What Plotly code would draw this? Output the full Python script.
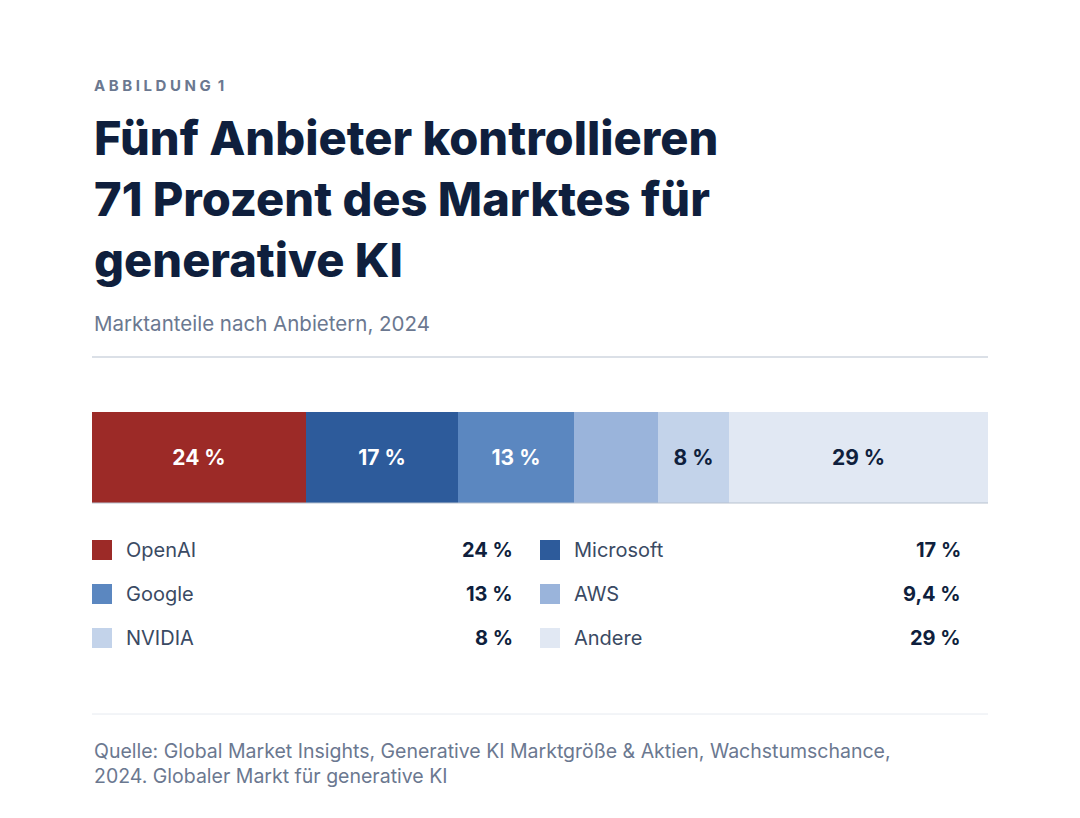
import plotly.graph_objects as go

anbieter = ["OpenAI", "Microsoft", "Google", "AWS", "NVIDIA", "Andere"]
anteile = [24, 17, 13, 9.4, 8, 29]
bar_labels = ["24 %", "17 %", "13 %", "", "8 %", "29 %"]
legend_labels = ["24 %", "17 %", "13 %", "9,4 %", "8 %", "29 %"]
farben = ["#9c2a27", "#2d5b9b", "#5b87c0", "#9ab4db", "#c3d3ea", "#e1e8f3"]
text_farben = ["white", "white", "white", "white", "#0f1f3d", "#0f1f3d"]

W, H = 1080, 818
OFF = 8  # page body margin
def px(x): return (x - OFF) / W
def py(y): return 1 - (y - OFF) / H

DARK = "#0f1f3d"
GREY = "#6b7890"
FONT = "Inter"

fig = go.Figure()
for name, v, lab, c, tc in zip(anbieter, anteile, bar_labels, farben, text_farben):
    fig.add_trace(go.Bar(
        y=[0], x=[v], orientation="h", name=name, marker=dict(color=c, line=dict(width=0)),
        text=[lab], textposition="inside", insidetextanchor="middle",
        textfont=dict(family=FONT, size=21, color=tc, weight=700),
        hoverinfo="skip", width=1,
    ))

fig.update_layout(
    width=W, height=H, barmode="stack", showlegend=False,
    margin=dict(l=0, r=0, t=0, b=0), paper_bgcolor="white", plot_bgcolor="white",
    bargap=0,
    xaxis=dict(domain=[px(92), px(988)], range=[0, sum(anteile)], visible=False),
    yaxis=dict(domain=[py(503), py(412)], range=[-0.5, 0.5], visible=False),
    uniformtext=dict(mode="show", minsize=10),
)

ann = [
    dict(x=px(92), y=py(86), text="A B B I L D U N G  1", font=dict(size=15, color=GREY, weight=700), yanchor="middle"),
    dict(x=px(92), y=py(198), text="Fünf Anbieter kontrollieren<br>71 Prozent des Marktes für<br>generative KI",
         font=dict(size=47, color=DARK, weight=800), yanchor="middle", align="left"),
    dict(x=px(92), y=py(323), text="Marktanteile nach Anbietern, 2024", font=dict(size=20.5, color=GREY), yanchor="middle"),
    dict(x=px(92), y=py(763), text="Quelle: Global Market Insights, Generative KI Marktgröße & Aktien, Wachstumschance,<br>2024. Globaler Markt für generative KI",
         font=dict(size=19.5, color=GREY), yanchor="middle", align="left"),
]
shapes = [
    dict(type="line", xref="paper", yref="paper", x0=px(92), x1=px(988), y0=py(357), y1=py(357), line=dict(color="#b8c2cf", width=1.2)),
    dict(type="line", xref="paper", yref="paper", x0=px(92), x1=px(988), y0=py(503), y1=py(503), line=dict(color="#b8c2cf", width=1.2)),
    dict(type="line", xref="paper", yref="paper", x0=px(92), x1=px(988), y0=py(714), y1=py(714), line=dict(color="#e6eaf0", width=1)),
]
rows = [550, 594, 638]
for i, (name, lab, c) in enumerate(zip(anbieter, legend_labels, farben)):
    col, row = i % 2, i // 2
    x0 = 92 if col == 0 else 540
    xr = 515 if col == 0 else 963
    y = rows[row]
    shapes.append(dict(type="rect", xref="paper", yref="paper", x0=px(x0), x1=px(x0 + 20),
                       y0=py(y + 10), y1=py(y - 10), fillcolor=c, line=dict(width=0)))
    ann.append(dict(x=px(x0 + 32), y=py(y), text=name, font=dict(size=20, color="#3a4a63"), yanchor="middle"))
    ann.append(dict(x=px(xr), y=py(y), text=lab, font=dict(size=20, color=DARK, weight=700),
                    xanchor="right", yanchor="middle"))
for a in ann:
    a.update(xref="paper", yref="paper", showarrow=False)
    a.setdefault("xanchor", "left")
    a["font"].setdefault("family", FONT)
fig.update_layout(annotations=ann, shapes=shapes)

fig.write_html("out.html")
